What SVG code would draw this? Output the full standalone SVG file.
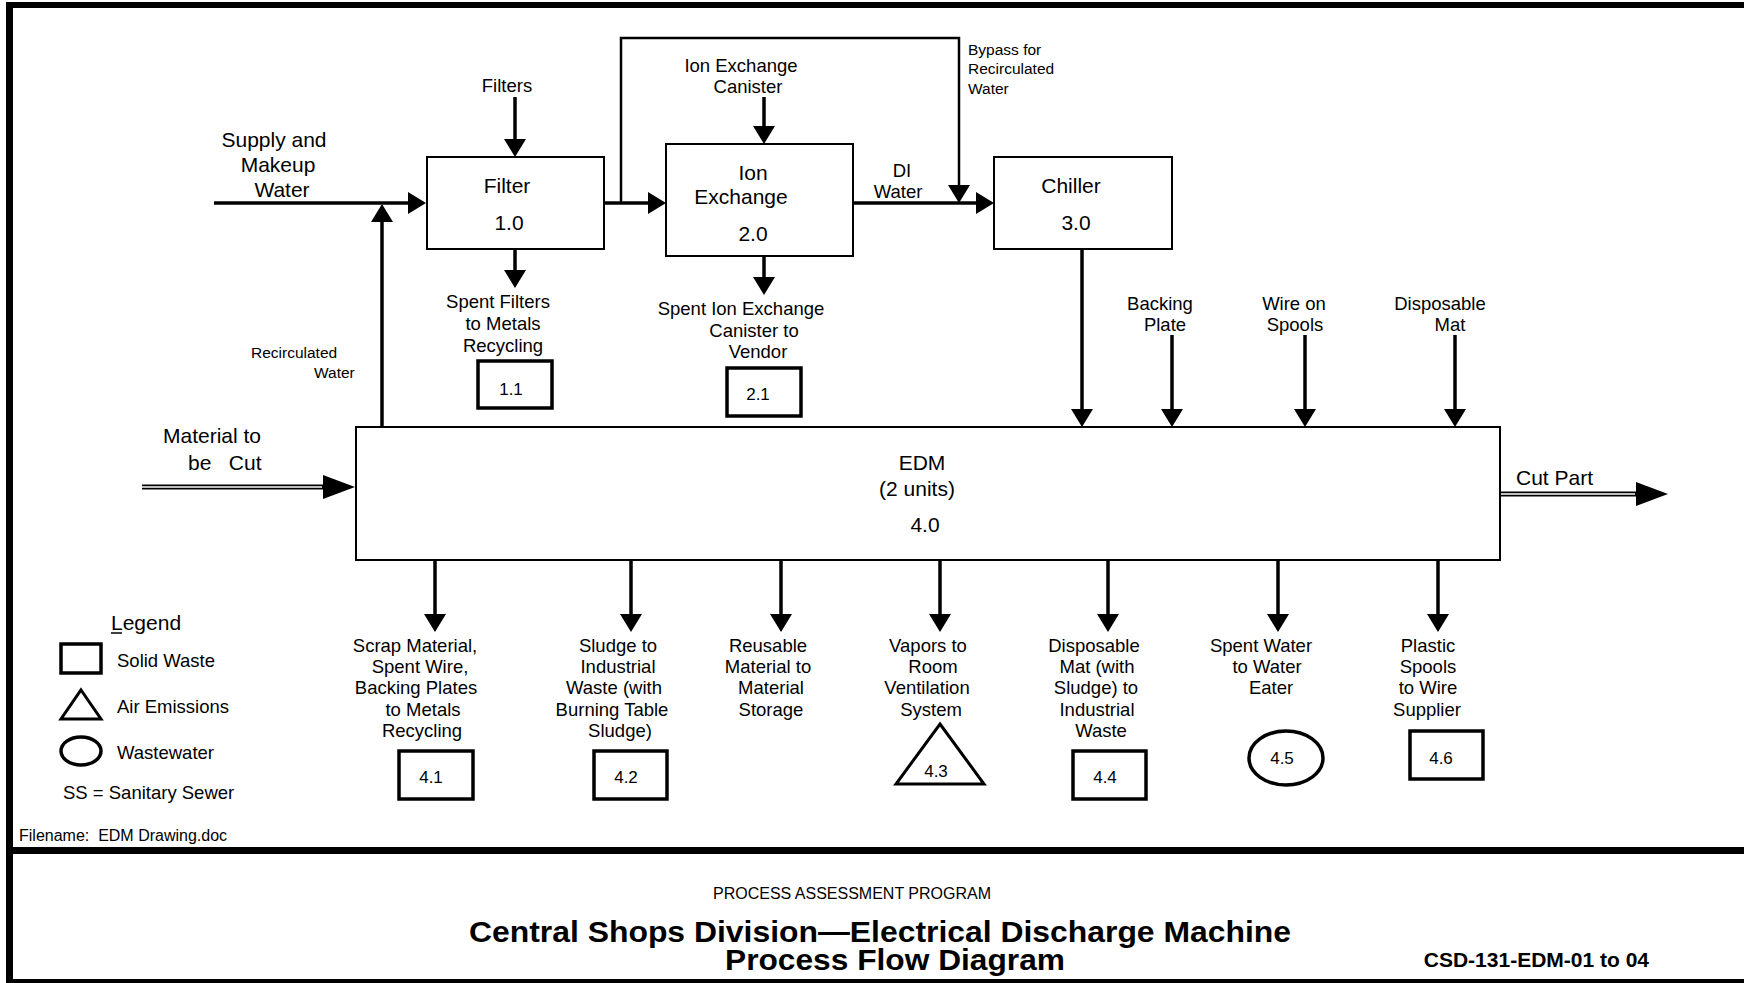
<svg xmlns="http://www.w3.org/2000/svg" width="1744" height="983" viewBox="0 0 1744 983">
<style>
text{font-family:"Liberation Sans",Arial,Helvetica,sans-serif;fill:#000}
.l21{font-size:21px}
.l18{font-size:18.5px}
.l15{font-size:15.5px}
.n17{font-size:17px}
.c{text-anchor:middle}
.proc{fill:#fff;stroke:#000;stroke-width:2}
.waste{fill:#fff;stroke:#000;stroke-width:3.5}
.flow{fill:none;stroke:#000;stroke-width:3.5}
.thin{fill:none;stroke:#000;stroke-width:2.5}
.dbl{fill:none;stroke:#000;stroke-width:5}
.dblin{fill:none;stroke:#fff;stroke-width:1.6}
.frame{fill:#000}
.title{font-size:29px;font-weight:bold;text-anchor:middle}
</style>
<defs>
<marker id="arr" markerUnits="userSpaceOnUse" markerWidth="18" markerHeight="22" refX="0" refY="11" orient="auto" overflow="visible">
<path d="M0,0 L18,11 L0,22 Z" fill="#000"/>
</marker>
<marker id="arrBig" markerUnits="userSpaceOnUse" markerWidth="32" markerHeight="24" refX="0" refY="12" orient="auto" overflow="visible">
<path d="M0,0 L32,12 L0,24 Z" fill="#000"/>
</marker>
</defs>
<rect width="1744" height="983" fill="#fff"/>
<g id="frame">
<rect class="frame" x="6" y="2" width="7" height="981"/>
<rect class="frame" x="6" y="2" width="1738" height="6"/>
<rect class="frame" x="6" y="847" width="1738" height="7"/>
<rect class="frame" x="6" y="979" width="1738" height="4"/>
</g>
<g id="connectors">
<path class="flow" d="M214,203 H408" marker-end="url(#arr)"/>
<path class="flow" d="M382,427 V222" marker-end="url(#arr)"/>
<path class="flow" d="M515,97 V139" marker-end="url(#arr)"/>
<path class="flow" d="M604,203 H648" marker-end="url(#arr)"/>
<path class="thin" d="M621,203 V38 H959 V185" marker-end="url(#arr)"/>
<path class="flow" d="M764,97 V126" marker-end="url(#arr)"/>
<path class="flow" d="M853,203 H976" marker-end="url(#arr)"/>
<path class="flow" d="M515,249 V270" marker-end="url(#arr)"/>
<path class="flow" d="M764,256 V277" marker-end="url(#arr)"/>
<path class="flow" d="M1082,249 V409" marker-end="url(#arr)"/>
<path class="flow" d="M1172,335 V409" marker-end="url(#arr)"/>
<path class="flow" d="M1305,335 V409" marker-end="url(#arr)"/>
<path class="flow" d="M1455,335 V409" marker-end="url(#arr)"/>
<path class="dbl" d="M142,487 H323" marker-end="url(#arrBig)"/>
<path class="dblin" d="M142,487 H322"/>
<path class="dbl" d="M1500,494 H1636" marker-end="url(#arrBig)"/>
<path class="dblin" d="M1501,494 H1635"/>
<path class="flow" d="M435,560 V614" marker-end="url(#arr)"/>
<path class="flow" d="M631,560 V614" marker-end="url(#arr)"/>
<path class="flow" d="M781,560 V614" marker-end="url(#arr)"/>
<path class="flow" d="M940,560 V614" marker-end="url(#arr)"/>
<path class="flow" d="M1108,560 V614" marker-end="url(#arr)"/>
<path class="flow" d="M1278,560 V614" marker-end="url(#arr)"/>
<path class="flow" d="M1438,560 V614" marker-end="url(#arr)"/>
</g>
<g id="labels">
<text class="l21 c" x="274" y="147">Supply and</text>
<text class="l21 c" x="278" y="172">Makeup</text>
<text class="l21 c" x="282" y="197">Water</text>
<text class="l18 c" x="507" y="92">Filters</text>
<text class="l18 c" x="741" y="72">Ion Exchange</text>
<text class="l18 c" x="748" y="93">Canister</text>
<text class="l15" x="968" y="55">Bypass for</text>
<text class="l15" x="968" y="74">Recirculated</text>
<text class="l15" x="968" y="94">Water</text>
<text class="l18 c" x="902" y="177">DI</text>
<text class="l18 c" x="898" y="198">Water</text>
<text class="l15" x="251" y="358">Recirculated</text>
<text class="l15" x="314" y="378">Water</text>
<text class="l18 c" x="498" y="308">Spent Filters</text>
<text class="l18 c" x="503" y="330">to Metals</text>
<text class="l18 c" x="503" y="352">Recycling</text>
<text class="l18 c" x="741" y="315">Spent Ion Exchange</text>
<text class="l18 c" x="754" y="337">Canister to</text>
<text class="l18 c" x="758" y="358">Vendor</text>
<text class="l18 c" x="1160" y="310">Backing</text>
<text class="l18 c" x="1165" y="331">Plate</text>
<text class="l18 c" x="1294" y="310">Wire on</text>
<text class="l18 c" x="1295" y="331">Spools</text>
<text class="l18 c" x="1440" y="310">Disposable</text>
<text class="l18 c" x="1450" y="331">Mat</text>
<text class="l21 c" x="212" y="443">Material to</text>
<text class="l21" x="188" y="470" style="white-space:pre">be   Cut</text>
<text class="l21" x="1516" y="485">Cut Part</text>
<text class="l18 c" x="415" y="652">Scrap Material,</text>
<text class="l18 c" x="420" y="673">Spent Wire,</text>
<text class="l18 c" x="416" y="694">Backing Plates</text>
<text class="l18 c" x="423" y="716">to Metals</text>
<text class="l18 c" x="422" y="737">Recycling</text>
<text class="l18 c" x="618" y="652">Sludge to</text>
<text class="l18 c" x="618" y="673">Industrial</text>
<text class="l18 c" x="614" y="694">Waste (with</text>
<text class="l18 c" x="612" y="716">Burning Table</text>
<text class="l18 c" x="620" y="737">Sludge)</text>
<text class="l18 c" x="768" y="652">Reusable</text>
<text class="l18 c" x="768" y="673">Material to</text>
<text class="l18 c" x="771" y="694">Material</text>
<text class="l18 c" x="771" y="716">Storage</text>
<text class="l18 c" x="928" y="652">Vapors to</text>
<text class="l18 c" x="933" y="673">Room</text>
<text class="l18 c" x="927" y="694">Ventilation</text>
<text class="l18 c" x="931" y="716">System</text>
<text class="l18 c" x="1094" y="652">Disposable</text>
<text class="l18 c" x="1097" y="673">Mat (with</text>
<text class="l18 c" x="1096" y="694">Sludge) to</text>
<text class="l18 c" x="1097" y="716">Industrial</text>
<text class="l18 c" x="1101" y="737">Waste</text>
<text class="l18 c" x="1261" y="652">Spent Water</text>
<text class="l18 c" x="1267" y="673">to Water</text>
<text class="l18 c" x="1271" y="694">Eater</text>
<text class="l18 c" x="1428" y="652">Plastic</text>
<text class="l18 c" x="1428" y="673">Spools</text>
<text class="l18 c" x="1428" y="694">to Wire</text>
<text class="l18 c" x="1427" y="716">Supplier</text>
</g>
<g id="node-1-0">
<rect class="proc" x="427" y="157" width="177" height="92"/>
<text class="l21 c" x="507" y="193">Filter</text>
<text class="l21 c" x="509" y="230">1.0</text>
</g>
<g id="node-2-0">
<rect class="proc" x="666" y="144" width="187" height="112"/>
<text class="l21 c" x="753" y="180">Ion</text>
<text class="l21 c" x="741" y="204">Exchange</text>
<text class="l21 c" x="753" y="241">2.0</text>
</g>
<g id="node-3-0">
<rect class="proc" x="994" y="157" width="178" height="92"/>
<text class="l21 c" x="1071" y="193">Chiller</text>
<text class="l21 c" x="1076" y="230">3.0</text>
</g>
<g id="node-4-0">
<rect class="proc" x="356" y="427" width="1144" height="133"/>
<text class="l21 c" x="922" y="470">EDM</text>
<text class="l21 c" x="917" y="496">(2 units)</text>
<text class="l21 c" x="925" y="532">4.0</text>
</g>
<g id="node-1-1">
<rect class="waste" x="478" y="361" width="74" height="47"/>
<text class="n17 c" x="511" y="395">1.1</text>
</g>
<g id="node-2-1">
<rect class="waste" x="727" y="368" width="74" height="48"/>
<text class="n17 c" x="758" y="400">2.1</text>
</g>
<g id="node-4-1">
<rect class="waste" x="399" y="751" width="74" height="48"/>
<text class="n17 c" x="431" y="783">4.1</text>
</g>
<g id="node-4-2">
<rect class="waste" x="594" y="751" width="73" height="48"/>
<text class="n17 c" x="626" y="783">4.2</text>
</g>
<g id="node-4-3">
<path d="M940,724 L984,784 L896,784 Z" fill="#fff" stroke="#000" stroke-width="3" stroke-linejoin="miter"/>
<text class="n17 c" x="936" y="777">4.3</text>
</g>
<g id="node-4-4">
<rect class="waste" x="1073" y="751" width="73" height="48"/>
<text class="n17 c" x="1105" y="783">4.4</text>
</g>
<g id="node-4-5">
<ellipse cx="1286" cy="758" rx="37" ry="27" fill="#fff" stroke="#000" stroke-width="3.5"/>
<text class="n17 c" x="1282" y="764">4.5</text>
</g>
<g id="node-4-6">
<rect class="waste" x="1410" y="731" width="73" height="48"/>
<text class="n17 c" x="1441" y="764">4.6</text>
</g>
<g id="legend">
<text class="l21" x="111" y="630">Legend</text>
<line x1="111" y1="633" x2="122" y2="633" stroke="#000" stroke-width="1.5"/>
<rect class="waste" x="61" y="644" width="40" height="29"/>
<text class="l18" x="117" y="667">Solid Waste</text>
<path d="M81,690 L101,719 L61,719 Z" fill="#fff" stroke="#000" stroke-width="3"/>
<text class="l18" x="117" y="713">Air Emissions</text>
<ellipse cx="81" cy="751" rx="20" ry="14" fill="#fff" stroke="#000" stroke-width="3.5"/>
<text class="l18" x="117" y="759">Wastewater</text>
<text class="l18" x="63" y="799">SS = Sanitary Sewer</text>
</g>
<g id="titleblock">
<text x="19" y="841" style="font-size:16px;white-space:pre">Filename:  EDM Drawing.doc</text>
<text class="c" x="852" y="899" style="font-size:16px">PROCESS ASSESSMENT PROGRAM</text>
<text class="title" x="880" y="942" textLength="822" lengthAdjust="spacingAndGlyphs">Central Shops Division—Electrical Discharge Machine</text>
<text class="title" x="895" y="970" textLength="340" lengthAdjust="spacingAndGlyphs">Process Flow Diagram</text>
<text x="1649" y="967" style="font-size:21px;font-weight:bold;text-anchor:end">CSD-131-EDM-01 to 04</text>
</g>
</svg>
